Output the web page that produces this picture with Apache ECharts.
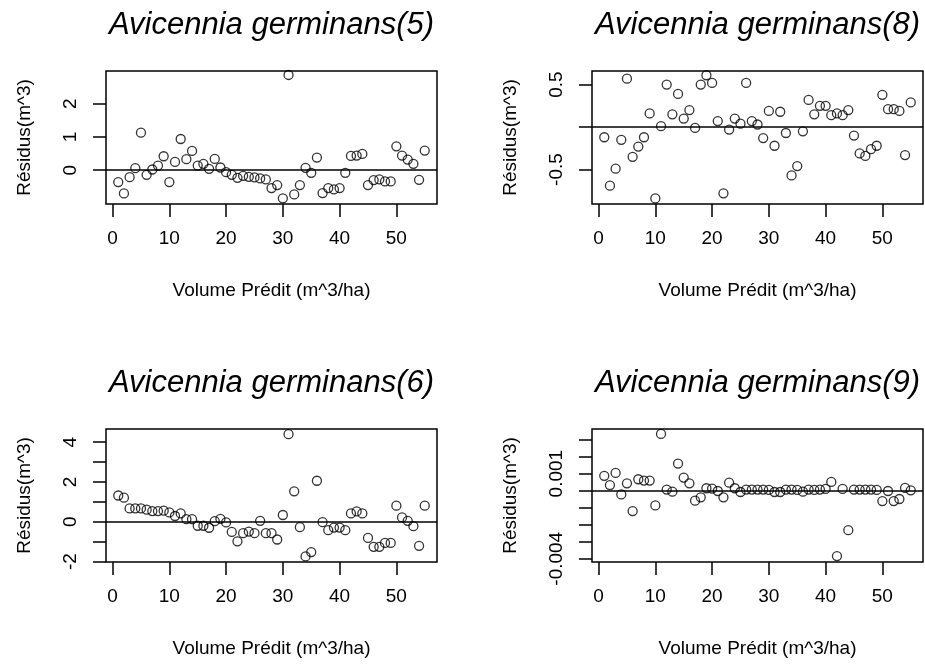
<!DOCTYPE html>
<html>
<head>
<meta charset="utf-8">
<script src="https://cdn.jsdelivr.net/npm/echarts@6/dist/echarts.min.js"></script>
<style>
  html, body { margin: 0; padding: 0; background: #ffffff; }
  #chart { width: 925px; height: 664px; }
</style>
</head>
<body>
<div id="chart"></div>
<script>
// Predicted volume (x) shared by all four residual plots
const volumePredit = [
  1, 2, 3, 4, 5, 6, 7, 8, 9, 10, 11, 12, 13, 14, 15, 16, 17, 18, 19, 20,
  21, 22, 23, 24, 25, 26, 27, 28, 29, 30, 31, 32, 33, 34, 35, 36, 37, 38, 39, 40,
  41, 42, 43, 44, 45, 46, 47, 48, 49, 50, 51, 52, 53, 54, 55
];

// Residuals, model (5)
const residus5 = [
  -0.36, -0.70, -0.21, 0.06, 1.13, -0.14, 0.02, 0.14, 0.42, -0.36,
  0.25, 0.94, 0.33, 0.58, 0.14, 0.19, 0.04, 0.34, 0.08, -0.06,
  -0.14, -0.23, -0.17, -0.20, -0.22, -0.25, -0.28, -0.54, -0.45, -0.85,
  2.87, -0.73, -0.45, 0.07, -0.08, 0.38, -0.69, -0.54, -0.58, -0.54,
  -0.08, 0.43, 0.44, 0.49, -0.45, -0.30, -0.28, -0.34, -0.34, 0.72,
  0.44, 0.32, 0.19, -0.29, 0.59
];

// Residuals, model (8)
const residus8 = [
  -0.12, -0.69, -0.49, -0.15, 0.57, -0.35, -0.23, -0.12, 0.16, -0.84,
  0.01, 0.50, 0.15, 0.39, 0.10, 0.20, -0.01, 0.50, 0.61, 0.52,
  0.07, -0.78, -0.03, 0.10, 0.04, 0.52, 0.07, 0.03, -0.13, 0.19,
  -0.22, 0.18, -0.07, -0.57, -0.46, -0.05, 0.32, 0.15, 0.25, 0.25,
  0.14, 0.16, 0.14, 0.20, -0.10, -0.31, -0.34, -0.26, -0.22, 0.38,
  0.21, 0.21, 0.19, -0.33, 0.29
];

// Residuals, model (6)
const residus6 = [
  1.32, 1.21, 0.67, 0.67, 0.67, 0.61, 0.54, 0.54, 0.56, 0.47,
  0.29, 0.42, 0.13, 0.13, -0.20, -0.20, -0.30, 0.03, 0.15, -0.03,
  -0.51, -0.98, -0.57, -0.49, -0.57, 0.05, -0.57, -0.57, -0.89, 0.34,
  4.40, 1.53, -0.27, -1.74, -1.52, 2.06, -0.02, -0.42, -0.29, -0.29,
  -0.42, 0.42, 0.52, 0.42, -0.81, -1.26, -1.26, -1.06, -1.06, 0.81,
  0.22, 0.05, -0.22, -1.21, 0.81
];

// Residuals, model (9)
const residus9 = [
  0.00087, 0.00033, 0.00104, -0.00022, 0.00043, -0.00120, 0.00067, 0.00059, 0.00059, -0.00087,
  0.00333, 0.00006, -0.00006, 0.00159, 0.00077, 0.00043, -0.00059, -0.00039, 0.00014, 0.00012,
  -0.00002, -0.00039, 0.00047, 0.00014, -0.00008, 0.00006, 0.00006, 0.00006, 0.00006, 0.00004,
  -0.00008, -0.00008, 0.00006, 0.00006, 0.00004, -0.00006, 0.00006, 0.00004, 0.00006, 0.00010,
  0.00051, -0.00384, 0.00010, -0.00232, 0.00006, 0.00006, 0.00006, 0.00006, 0.00004, -0.00061,
  -0.00002, -0.00061, -0.00049, 0.00016, 0.00002
];

// Axis ticks and labels
const xTicks = [0, 10, 20, 30, 40, 50];
const yTicks5 = [0, 1, 2];
const yLabels5 = [0, 1, 2];
const yTicks8 = [-0.5, 0, 0.5];
const yLabels8 = [-0.5, 0.5];
const yTicks6 = [-2, -1, 0, 1, 2, 3, 4];
const yLabels6 = [-2, 0, 2, 4];
const yTicks9 = [-0.004, -0.003, -0.002, -0.001, 0, 0.001, 0.002, 0.003];
const yLabels9 = [-0.004, 0.001];

const titles = [
  'Avicennia germinans(5)', 'Avicennia germinans(8)',
  'Avicennia germinans(6)', 'Avicennia germinans(9)'
];
const xTitle = 'Volume Prédit (m^3/ha)';
const yTitle = 'Résidus(m^3)';

const FONT = "'Liberation Sans', Arial, sans-serif";

// Panel layout (grid boxes) and axis ranges
const panels = [
  { res: residus5, yTicks: yTicks5, yLabels: yLabels5, left: 106, top: 71, ymin: -1.02, ymax: 2.99 },
  { res: residus8, yTicks: yTicks8, yLabels: yLabels8, left: 592, top: 71, ymin: -0.906, ymax: 0.66 },
  { res: residus6, yTicks: yTicks6, yLabels: yLabels6, left: 106, top: 429, ymin: -2.02, ymax: 4.66 },
  { res: residus9, yTicks: yTicks9, yLabels: yLabels9, left: 592, top: 429, ymin: -0.00419, ymax: 0.00362 }
];
const GRID_W = 331, GRID_H = 133;

const grid = [], xAxis = [], yAxis = [], series = [], title = [];
const lineStyle = { color: '#000', width: 1.5 };

panels.forEach((p, i) => {
  grid.push({
    left: p.left, top: p.top, width: GRID_W, height: GRID_H,
    show: true, borderColor: '#000', borderWidth: 1.5, backgroundColor: 'transparent'
  });
  title.push({
    text: titles[i],
    left: p.left + GRID_W / 2,
    top: p.top - 61,
    textAlign: 'center',
    padding: 0,
    textStyle: { fontFamily: FONT, fontSize: 31, fontStyle: 'italic', fontWeight: 'normal', color: '#000' }
  });
  xAxis.push({
    type: 'value', gridIndex: i, min: -1.16, max: 57.16,
    axisLine: { show: false, onZero: false },
    axisTick: { show: true, inside: false, length: 13, lineStyle, customValues: xTicks },
    axisLabel: { show: true, margin: 25, fontFamily: FONT, fontSize: 19, color: '#000', customValues: xTicks },
    splitLine: { show: false },
    name: xTitle, nameLocation: 'middle', nameGap: 77,
    nameTextStyle: { fontFamily: FONT, fontSize: 19, color: '#000' }
  });
  yAxis.push({
    type: 'value', gridIndex: i, min: p.ymin, max: p.ymax,
    axisLine: { show: false, onZero: false },
    axisTick: { show: true, inside: false, length: 13, lineStyle, customValues: p.yTicks },
    axisLabel: { show: true, rotate: 90, margin: 26, fontFamily: FONT, fontSize: 19, color: '#000', customValues: p.yLabels },
    splitLine: { show: false },
    name: yTitle, nameLocation: 'middle', nameGap: 72,
    nameTextStyle: { fontFamily: FONT, fontSize: 19, color: '#000' }
  });
  series.push({
    type: 'scatter', xAxisIndex: i, yAxisIndex: i,
    data: volumePredit.map((v, k) => [v, p.res[k]]),
    symbol: 'circle', symbolSize: 9,
    itemStyle: { color: 'rgba(0,0,0,0)', borderColor: '#000', borderWidth: 1.3 },
    emphasis: { disabled: true },
    silent: true,
    markLine: {
      silent: true, symbol: 'none', label: { show: false },
      lineStyle: { color: '#000', width: 1.5, type: 'solid' },
      data: [{ yAxis: 0 }]
    }
  });
});

const chart = echarts.init(document.getElementById('chart'), null, { renderer: 'canvas' });
chart.setOption({
  backgroundColor: '#ffffff',
  animation: false,
  title, grid, xAxis, yAxis, series
});
</script>
</body>
</html>
